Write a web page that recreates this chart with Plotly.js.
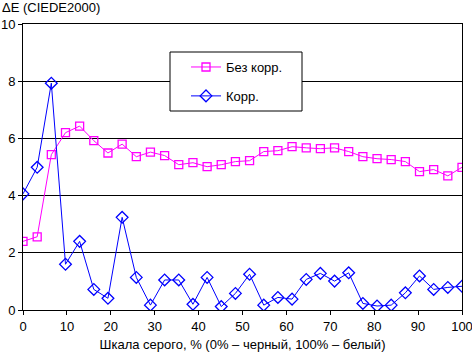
<!DOCTYPE html>
<html>
<head>
<meta charset="utf-8">
<script src="https://cdn.plot.ly/plotly-3.0.1.min.js"></script>
<style>html,body{margin:0;padding:0;background:#fff;}#chart{width:472px;height:353px;}</style>
</head>
<body>
<div id="chart"></div>
<script>
const grayLevels = [0,3.23,6.45,9.68,12.9,16.13,19.35,22.58,25.81,29.03,32.26,35.48,38.71,41.94,45.16,48.39,51.61,54.84,58.06,61.29,64.52,67.74,70.97,74.19,77.42,80.65,83.87,87.1,90.32,93.55,96.77,100];
const noCorr = [2.40,2.56,5.43,6.20,6.43,5.92,5.49,5.80,5.36,5.52,5.40,5.08,5.15,5.01,5.08,5.19,5.22,5.54,5.57,5.71,5.67,5.64,5.67,5.54,5.36,5.29,5.26,5.19,4.84,4.91,4.69,4.99];
const corr = [4.06,4.99,7.93,1.60,2.40,0.72,0.41,3.24,1.14,0.17,1.05,1.05,0.20,1.14,0.12,0.58,1.25,0.17,0.44,0.38,1.07,1.28,1.01,1.30,0.23,0.14,0.17,0.60,1.19,0.72,0.79,0.83];
const seriesNames = ["Без корр.", "Корр."];
const xTicks = [0,10,20,30,40,50,60,70,80,90,100];
const yTicks = [0,2,4,6,8,10];

const font = {family: "Liberation Sans, Arial, sans-serif", size: 13, color: "#000"};
const traces = [
  {x: grayLevels, y: noCorr, name: seriesNames[0], type: "scatter", mode: "lines+markers",
   legendgroup: "a",
   line: {color: "#ff00ff", width: 1},
   marker: {symbol: "square-open", size: 8, color: "#ff00ff", line: {width: 1.3}}},
  {x: grayLevels, y: corr, name: seriesNames[1], type: "scatter", mode: "lines+markers",
   legendgroup: "b",
   line: {color: "#0000ff", width: 1},
   marker: {symbol: "diamond-open", size: 9, color: "#0000ff", line: {width: 1.3}}}
];
const plotW = 439, plotH = 286;
const layout = {
  width: 472, height: 353,
  margin: {l: 23, r: 10, t: 24, b: 43, pad: 0},
  paper_bgcolor: "#fff", plot_bgcolor: "#fff",
  font: font,
  showlegend: true,
  legend: {x: (186 - 23) / plotW, y: 0.902, xanchor: "left", yanchor: "top",
    borderwidth: 0, bgcolor: "rgba(0,0,0,0)",
    font: font, traceorder: "grouped", tracegroupgap: 9, itemwidth: 30},
  shapes: [{type: "rect", xref: "paper", yref: "paper", layer: "above",
    x0: (170 - 23) / plotW, x1: (302 - 23) / plotW,
    y0: (310 - 111) / plotH, y1: (310 - 52) / plotH,
    line: {color: "#000", width: 1}, fillcolor: "#fff"}],
  xaxis: {range: [0, 100], tickvals: xTicks, ticktext: xTicks.map(String),
    showgrid: false, zeroline: false, showline: true, linecolor: "#000", linewidth: 1,
    mirror: true, ticks: "outside", ticklen: 4, tickcolor: "#000",
    tickfont: font, ticklabeloverflow: "allow",
    title: {text: "Шкала серого, % (0% – черный, 100% – белый)", font: font, standoff: 7}},
  yaxis: {range: [0, 10], tickvals: yTicks, ticktext: yTicks.map(String),
    showgrid: true, gridcolor: "#000", gridwidth: 1, zeroline: false,
    showline: true, linecolor: "#000", linewidth: 1, mirror: true,
    ticks: "outside", ticklen: 4, tickcolor: "#000", tickfont: font},
  annotations: [{text: "ΔE (CIEDE2000)", xref: "paper", yref: "paper",
    x: -23/439, y: 1 + 17/286, xanchor: "left", yanchor: "middle",
    showarrow: false, font: font}]
};
Plotly.newPlot("chart", traces, layout, {displayModeBar: false, staticPlot: true});
</script>
</body>
</html>
